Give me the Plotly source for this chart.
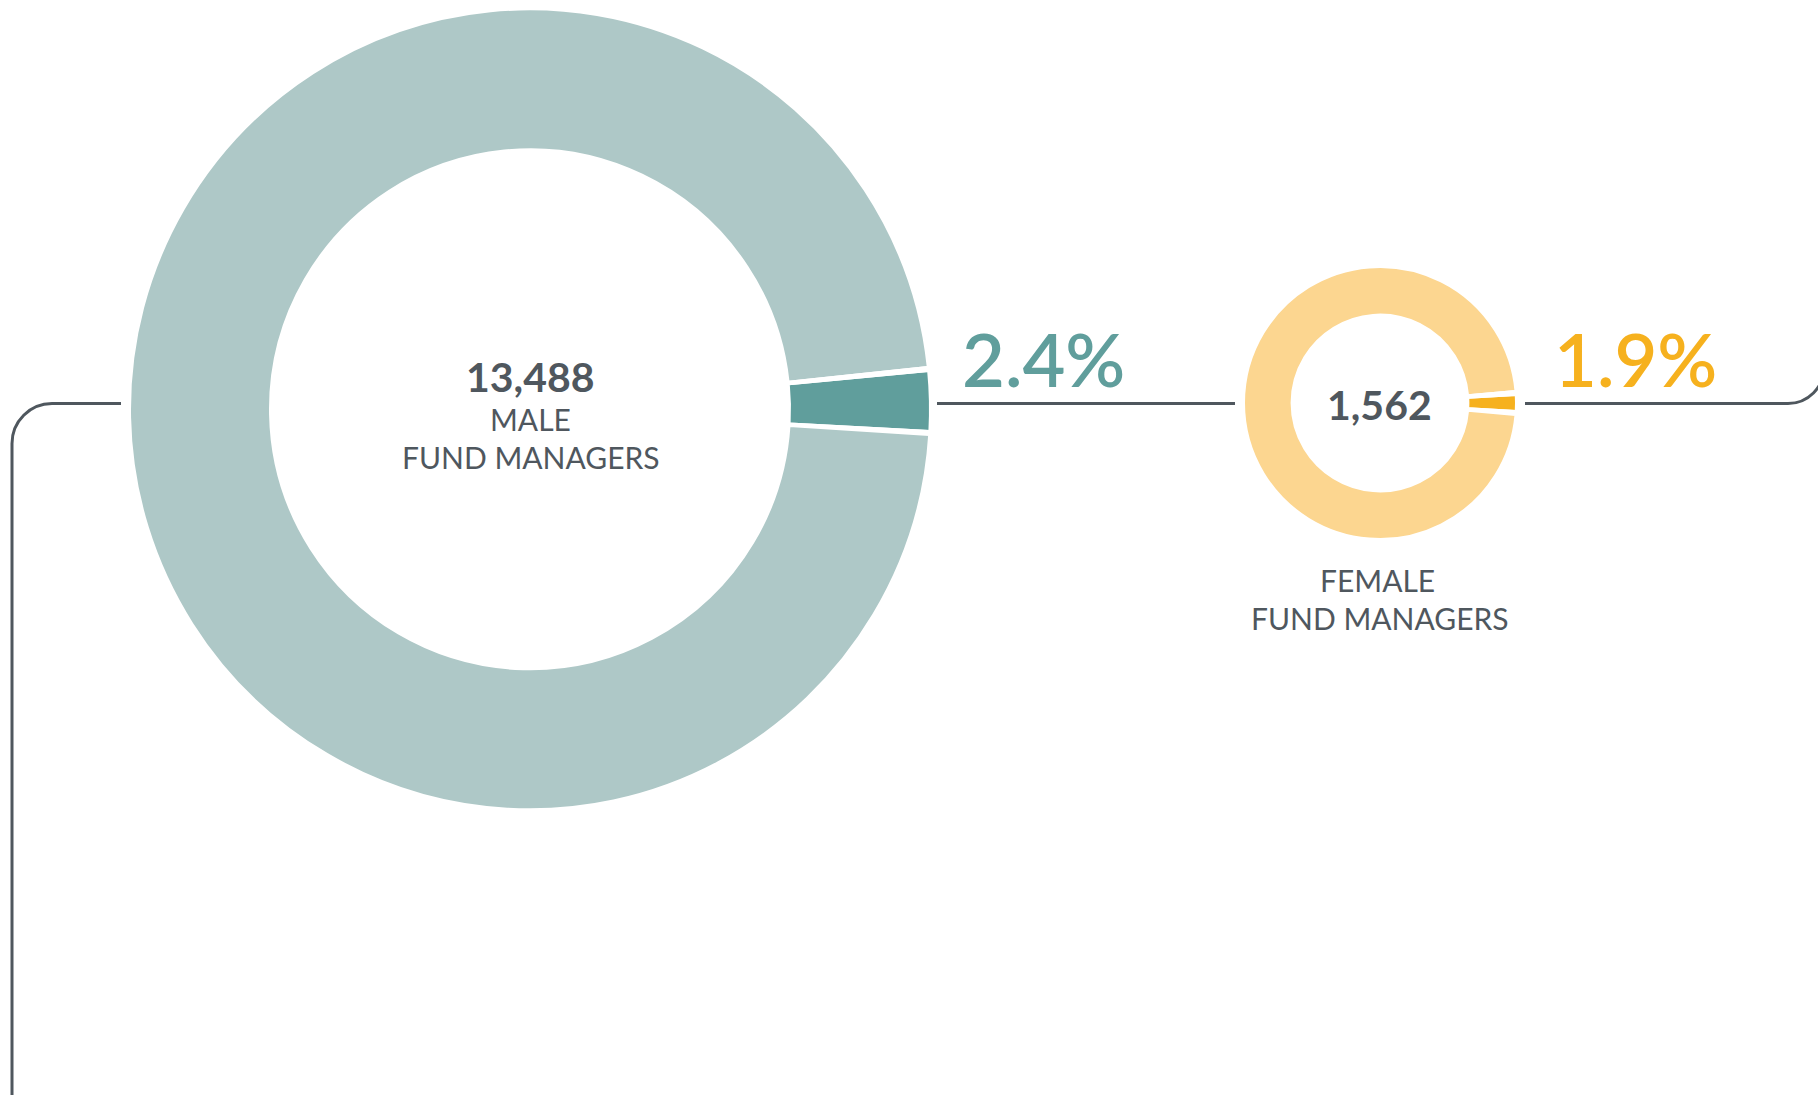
import math
import plotly.graph_objects as go

W, H = 1818, 1095

# ---- data ----
male_labels = ["Share", "Rest"]
male_values = [2.4, 97.6]
female_labels = ["Share", "Rest"]
female_values = [1.9, 98.1]
male_count = "13,488"
female_count = "1,562"
male_pct_text = "2.4%"
female_pct_text = "1.9%"

# ---- style ----
TEAL_LIGHT = "#AEC8C7"
TEAL_DARK = "#609E9C"
YEL_LIGHT = "#FCD690"
YEL_DARK = "#F6B11E"
GRAY = "#4F575E"
FONT = "Lato"
GAP_PX = 4.0      # white separator width (wedge part, at outer radius)
STROKE = 2        # white stroke width around slices


def px(x):
    return x / W


def py(y):
    return 1 - y / H


def domain(cx, cy, r):
    return dict(x=[px(cx - r), px(cx + r)], y=[py(cy + r), py(cy - r)])


def donut(labels, values, colors, cx, cy, r, tilt):
    gap = GAP_PX / (2 * math.pi * r) * sum(values)
    vals = [values[0], gap, values[1], gap]
    labs = [labels[0], "gap1", labels[1], "gap2"]
    cols = [colors[0], "white", colors[1], "white"]
    total = sum(vals)
    first_angle = vals[0] / total * 360
    return go.Pie(
        labels=labs, values=vals, hole=0.65, sort=False,
        direction="clockwise", rotation=90 + tilt - first_angle / 2,
        marker=dict(colors=cols, line=dict(color="white", width=STROKE)),
        textinfo="none", hoverinfo="skip", domain=domain(cx, cy, r),
    )


fig = go.Figure()
fig.add_trace(donut(male_labels, male_values, [TEAL_DARK, TEAL_LIGHT], 530, 409.3, 400, -1.2))
fig.add_trace(donut(female_labels, female_values, [YEL_DARK, YEL_LIGHT], 1380, 403, 136, 0))


def P(x, y):
    return f"{px(x):.6f},{py(y):.6f}"


k = 0.5523
r1 = 40
left_path = (f"M{P(121, 403.5)} L{P(12 + r1, 403.5)} "
             f"C{P(12 + r1 - k * r1, 403.5)} {P(12, 403.5 + r1 - k * r1)} {P(12, 403.5 + r1)} "
             f"L{P(12, 1110)}")
mid_path = f"M{P(937, 403.5)} L{P(1235, 403.5)}"
r2 = 36
right_path = (f"M{P(1525, 403.5)} L{P(1788, 403.5)} "
              f"C{P(1788 + k * r2, 403.5)} {P(1788 + r2, 403.5 - r2 + k * r2)} {P(1788 + r2, 403.5 - r2)} "
              f"L{P(1788 + r2, -20)}")
for p in (left_path, mid_path, right_path):
    fig.add_shape(type="path", path=p, xref="paper", yref="paper",
                  line=dict(color=GRAY, width=3), layer="above")


def ann(text, x, y, size, color, weight="normal", xanchor="center"):
    fig.add_annotation(text=text, x=px(x), y=py(y), xref="paper", yref="paper",
                       xanchor=xanchor, yanchor="middle", showarrow=False,
                       font=dict(family=FONT, size=size, color=color, weight=weight))


ann(male_count, 530, 376, 41, GRAY, "bold")
ann("MALE", 530.5, 419.5, 30, GRAY)
ann("FUND MANAGERS", 530.5, 457, 30, GRAY)
ann(male_pct_text, 960, 358.5, 74, TEAL_DARK, 600, xanchor="left")
ann(female_count, 1379, 404, 41, GRAY, "bold")
ann(female_pct_text, 1552, 358.5, 74, YEL_DARK, 600, xanchor="left")
ann("FEMALE", 1377, 580, 30, GRAY)
ann("FUND MANAGERS", 1379.5, 618, 30, GRAY)

fig.update_layout(
    width=W, height=H, margin=dict(l=0, r=0, t=0, b=0),
    paper_bgcolor="white", plot_bgcolor="white", showlegend=False,
)

fig.write_html("out.html", config={"displayModeBar": False},
               post_script="document.body.style.margin='0';")
